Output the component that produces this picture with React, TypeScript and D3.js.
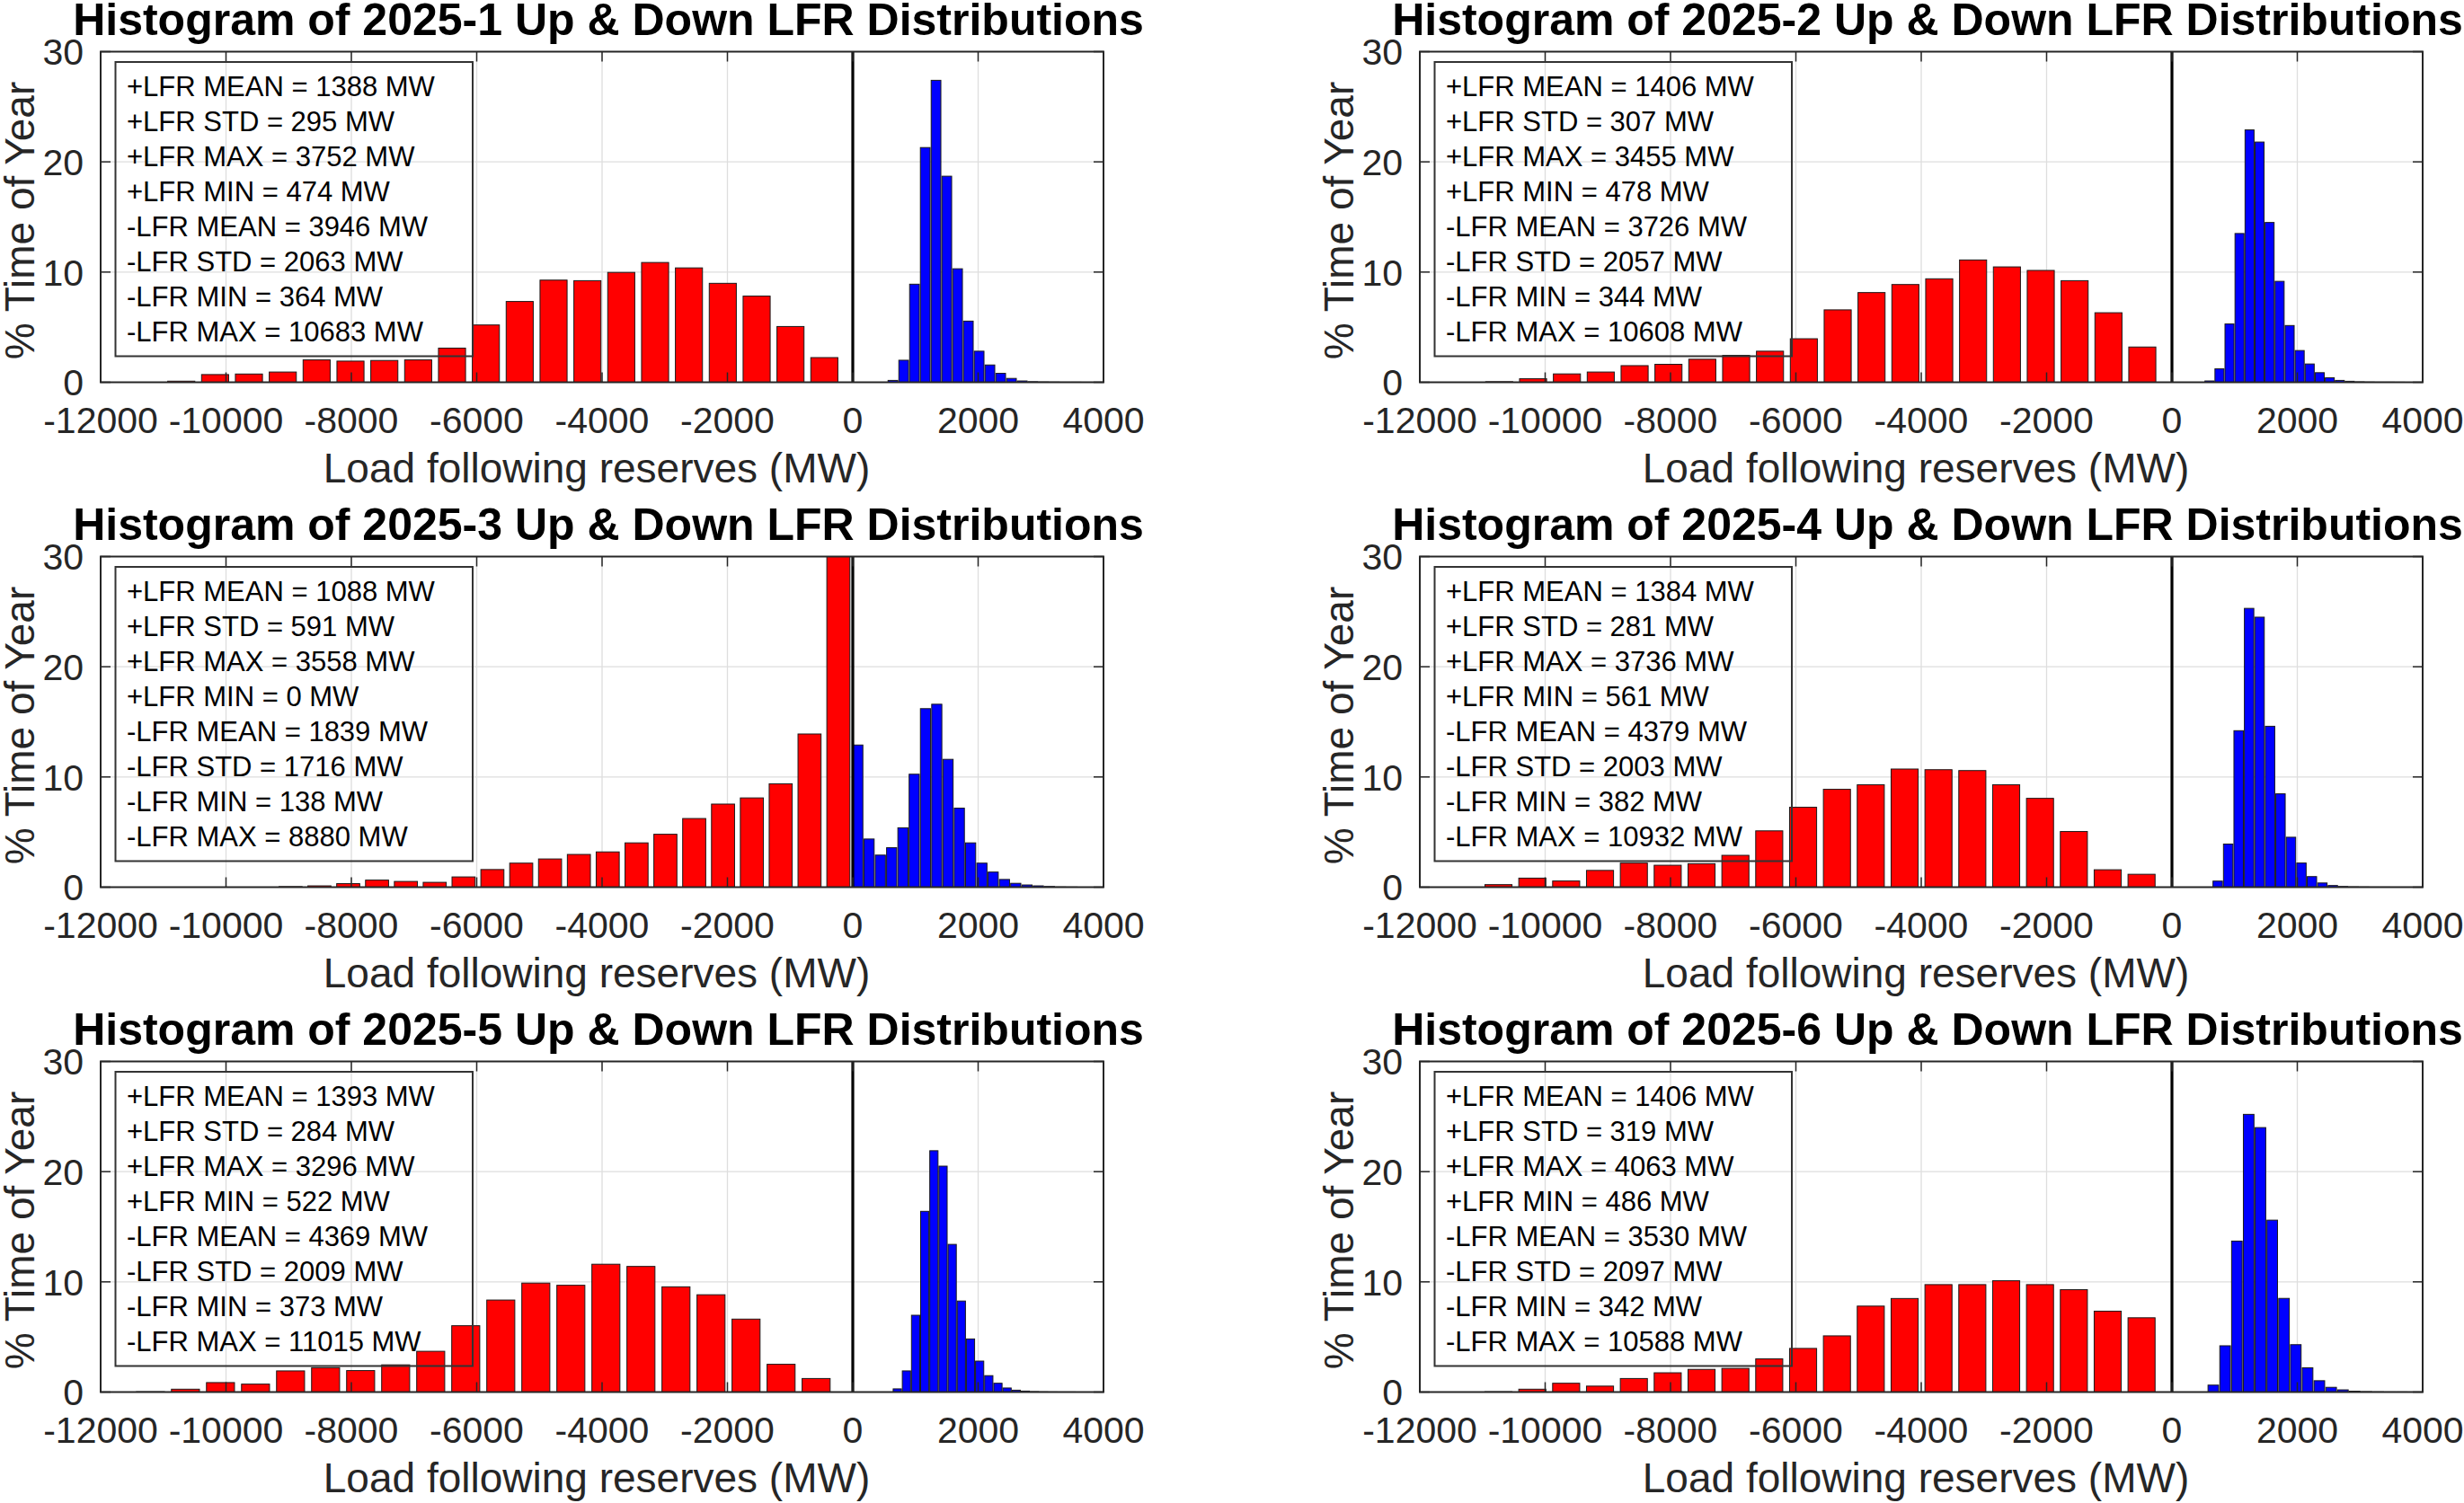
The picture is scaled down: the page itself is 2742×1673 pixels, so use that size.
import * as d3 from "d3";

// ---- data ----
const panelNames = ["2025-1", "2025-2", "2025-3", "2025-4", "2025-5", "2025-6"];

// stats shown in the text box of each panel
const plusMean = [1388, 1406, 1088, 1384, 1393, 1406];
const plusStd = [295, 307, 591, 281, 284, 319];
const plusMax = [3752, 3455, 3558, 3736, 3296, 4063];
const plusMin = [474, 478, 0, 561, 522, 486];
const minusMean = [3946, 3726, 1839, 4379, 4369, 3530];
const minusStd = [2063, 2057, 1716, 2003, 2009, 2097];
const minusMin = [364, 344, 138, 382, 373, 342];
const minusMax = [10683, 10608, 8880, 10932, 11015, 10588];

// bin centre of first bar and bin spacing (MW)
const redStart = [-10714, -10733, -8970, -10745, -11206, -10745];
const redStep = [540, 540, 460, 540, 559, 540];
const blueStart = [640, 598, 80, 730, 710, 660];
const blueStep = [172, 160, 180, 167, 146, 188];

// % time of year per bin (down reserves, red)
const red1 = [0.1, 0.7, 0.75, 0.93, 2.03, 1.92, 1.98, 2.03, 3.1, 5.2, 7.33, 9.27, 9.22, 9.97, 10.87, 10.38, 8.98, 7.82, 5.06, 2.24];
const red2 = [0.05, 0.32, 0.76, 0.93, 1.51, 1.63, 2.09, 2.44, 2.82, 3.95, 6.57, 8.14, 8.87, 9.39, 11.1, 10.47, 10.15, 9.22, 6.31, 3.2];
const red3 = [0.05, 0.12, 0.32, 0.64, 0.52, 0.44, 0.93, 1.6, 2.18, 2.56, 2.97, 3.2, 4.02, 4.8, 6.23, 7.54, 8.1, 9.38, 13.9, 30.5];
const red4 = [0.23, 0.82, 0.56, 1.52, 2.19, 1.99, 2.13, 2.89, 5.11, 7.25, 8.88, 9.29, 10.72, 10.66, 10.58, 9.29, 8.06, 5.05, 1.58, 1.17];
const red5 = [0.03, 0.26, 0.86, 0.72, 1.92, 2.21, 1.95, 2.47, 3.7, 6.02, 8.35, 9.89, 9.69, 11.6, 11.4, 9.55, 8.83, 6.62, 2.52, 1.23];
const red6 = [0.03, 0.26, 0.8, 0.54, 1.23, 1.75, 2.06, 2.15, 3.01, 3.96, 5.1, 7.8, 8.49, 9.75, 9.75, 10.1, 9.75, 9.29, 7.34, 6.74];

// % time of year per bin (up reserves, blue)
const blue1 = [0.17, 2.0, 8.9, 21.3, 27.4, 18.7, 10.3, 5.55, 2.82, 1.57, 0.81, 0.35, 0.12, 0.05, 0.03, 0.02, 0.01, 0.01, 0.005, 0.005];
const blue2 = [0.12, 1.22, 5.29, 13.5, 22.9, 21.8, 14.5, 9.16, 5.15, 2.88, 1.66, 0.87, 0.41, 0.17, 0.09, 0.04, 0.02, 0.01, 0.01, 0.005];
const blue3 = [12.9, 4.37, 2.91, 3.58, 5.39, 10.25, 16.2, 16.6, 11.6, 7.17, 4.02, 2.18, 1.37, 0.7, 0.35, 0.2, 0.12, 0.06, 0.02, 0.01];
const blue4 = [0.55, 3.91, 14.2, 25.3, 24.5, 14.6, 8.47, 4.53, 2.19, 0.96, 0.38, 0.15, 0.06, 0.03, 0.02, 0.01, 0.01, 0.005, 0.005, 0.005];
const blue5 = [0.29, 1.92, 6.97, 16.4, 21.9, 20.5, 13.4, 8.26, 4.82, 2.81, 1.49, 0.8, 0.37, 0.17, 0.09, 0.04, 0.02, 0.01, 0.005, 0.005];
const blue6 = [0.63, 4.2, 13.7, 25.2, 24.0, 15.6, 8.5, 4.3, 2.2, 1.03, 0.43, 0.2, 0.08, 0.04, 0.02, 0.01, 0.01, 0.005, 0.005, 0.005];

const redData = [red1, red2, red3, red4, red5, red6];
const blueData = [blue1, blue2, blue3, blue4, blue5, blue6];

const xTickValues = [-12000, -10000, -8000, -6000, -4000, -2000, 0, 2000, 4000];
const yTickValues = [0, 10, 20, 30];

// ---- layout ----
const WIDTH = 2742;
const HEIGHT = 1673;
const colLeft = [112, 1580];
const rowTop = [57.5, 619.5, 1181.5];
const plotW = 1116;
const plotH = 368;
const FONT = "'Liberation Sans', Arial, Helvetica, sans-serif";
const AXIS_COLOR = "#262626";

function Panel({ p }: { p: number }) {
	const left = colLeft[p % 2];
	const top = rowTop[Math.floor(p / 2)];

	const x = d3.scaleLinear().domain([-12000, 4000]).range([0, plotW]);
	const y = d3.scaleLinear().domain([0, 30]).range([plotH, 0]);

	const redW = x(redStep[p] * 0.8) - x(0);
	const blueW = x(blueStep[p] * 0.9) - x(0);

	const legendLines = [
		`+LFR MEAN = ${plusMean[p]} MW`,
		`+LFR STD = ${plusStd[p]} MW`,
		`+LFR MAX = ${plusMax[p]} MW`,
		`+LFR MIN = ${plusMin[p]} MW`,
		`-LFR MEAN = ${minusMean[p]} MW`,
		`-LFR STD = ${minusStd[p]} MW`,
		`-LFR MIN = ${minusMin[p]} MW`,
		`-LFR MAX = ${minusMax[p]} MW`,
	];

	const clipId = `clip-${p}`;
	const tickLen = 11;

	return (
		<g transform={`translate(${left},${top})`}>
			<defs>
				<clipPath id={clipId}>
					<rect x={0} y={0} width={plotW} height={plotH} />
				</clipPath>
			</defs>

			{/* grid */}
			<g stroke="#dedede" strokeWidth={1.3}>
				{xTickValues
					.filter((t) => t > -12000 && t < 4000)
					.map((t) => (
						<line key={`gx${t}`} x1={x(t)} x2={x(t)} y1={0} y2={plotH} />
					))}
				{yTickValues
					.filter((t) => t > 0 && t < 30)
					.map((t) => (
						<line key={`gy${t}`} x1={0} x2={plotW} y1={y(t)} y2={y(t)} />
					))}
			</g>

			{/* bars */}
			<g clipPath={`url(#${clipId})`}>
				{redData[p].map((v, i) => {
					const c = redStart[p] + i * redStep[p];
					return (
						<rect
							key={`r${i}`}
							x={x(c) - redW / 2}
							y={y(v)}
							width={redW}
							height={y(0) - y(v)}
							fill="#ff0000"
							stroke="#1a1a1a"
							strokeWidth={1}
						/>
					);
				})}
				{blueData[p].map((v, i) => {
					const c = blueStart[p] + i * blueStep[p];
					return (
						<rect
							key={`b${i}`}
							x={x(c) - blueW / 2}
							y={y(v)}
							width={blueW}
							height={y(0) - y(v)}
							fill="#0000ff"
							stroke="#1a1a1a"
							strokeWidth={1}
						/>
					);
				})}
				{/* zero line */}
				<line x1={x(0)} x2={x(0)} y1={0} y2={plotH} stroke="#000" strokeWidth={3.2} />
			</g>

			{/* ticks (inward, all four sides) */}
			<g stroke={AXIS_COLOR} strokeWidth={1.5}>
				{xTickValues.map((t) => (
					<g key={`tx${t}`}>
						<line x1={x(t)} x2={x(t)} y1={plotH} y2={plotH - tickLen} />
						<line x1={x(t)} x2={x(t)} y1={0} y2={tickLen} />
					</g>
				))}
				{yTickValues.map((t) => (
					<g key={`ty${t}`}>
						<line x1={0} x2={tickLen} y1={y(t)} y2={y(t)} />
						<line x1={plotW} x2={plotW - tickLen} y1={y(t)} y2={y(t)} />
					</g>
				))}
			</g>

			{/* axes box */}
			<rect x={0} y={0} width={plotW} height={plotH} fill="none" stroke={AXIS_COLOR} strokeWidth={2} />

			{/* stats box */}
			<rect x={16.5} y={11.5} width={397.5} height={327.5} fill="none" stroke="#333" strokeWidth={2} />
			{legendLines.map((s, i) => (
				<text
					key={`l${i}`}
					x={29}
					y={49.5 + i * 39}
					fontFamily={FONT}
					fontSize={31}
					fill="#000"
				>
					{s}
				</text>
			))}

			{/* tick labels */}
			{xTickValues.map((t) => (
				<text
					key={`xl${t}`}
					x={x(t)}
					y={plotH + 56}
					textAnchor="middle"
					fontFamily={FONT}
					fontSize={41}
					fill={AXIS_COLOR}
				>
					{String(t)}
				</text>
			))}
			{yTickValues.map((t) => (
				<text
					key={`yl${t}`}
					x={-19}
					y={y(t)}
					dy="0.36em"
					textAnchor="end"
					fontFamily={FONT}
					fontSize={41}
					fill={AXIS_COLOR}
				>
					{String(t)}
				</text>
			))}

			{/* axis labels */}
			<text
				x={plotW / 2 - 6}
				y={plotH + 111}
				textAnchor="middle"
				fontFamily={FONT}
				fontSize={46}
				fill={AXIS_COLOR}
			>
				Load following reserves (MW)
			</text>
			<text
				transform={`translate(${38 - left + (p % 2 === 1 ? 1468 : 0)},${plotH / 2 + 4}) rotate(-90)`}
				textAnchor="middle"
				fontFamily={FONT}
				fontSize={46}
				fill={AXIS_COLOR}
			>
				% Time of Year
			</text>

			{/* title */}
			<text
				x={plotW / 2 + 7}
				y={-19}
				textAnchor="middle"
				fontFamily={FONT}
				fontSize={50}
				fontWeight="bold"
				fill="#000"
			>
				{`Histogram of ${panelNames[p]} Up & Down LFR Distributions`}
			</text>
		</g>
	);
}

export default function App() {
	return (
		<svg
			width={WIDTH}
			height={HEIGHT}
			viewBox={`0 0 ${WIDTH} ${HEIGHT}`}
			style={{ position: "absolute", left: 0, top: 0, background: "#fff" }}
			xmlns="http://www.w3.org/2000/svg"
		>
			<rect x={0} y={0} width={WIDTH} height={HEIGHT} fill="#fff" />
			{panelNames.map((_, p) => (
				<Panel key={p} p={p} />
			))}
		</svg>
	);
}
